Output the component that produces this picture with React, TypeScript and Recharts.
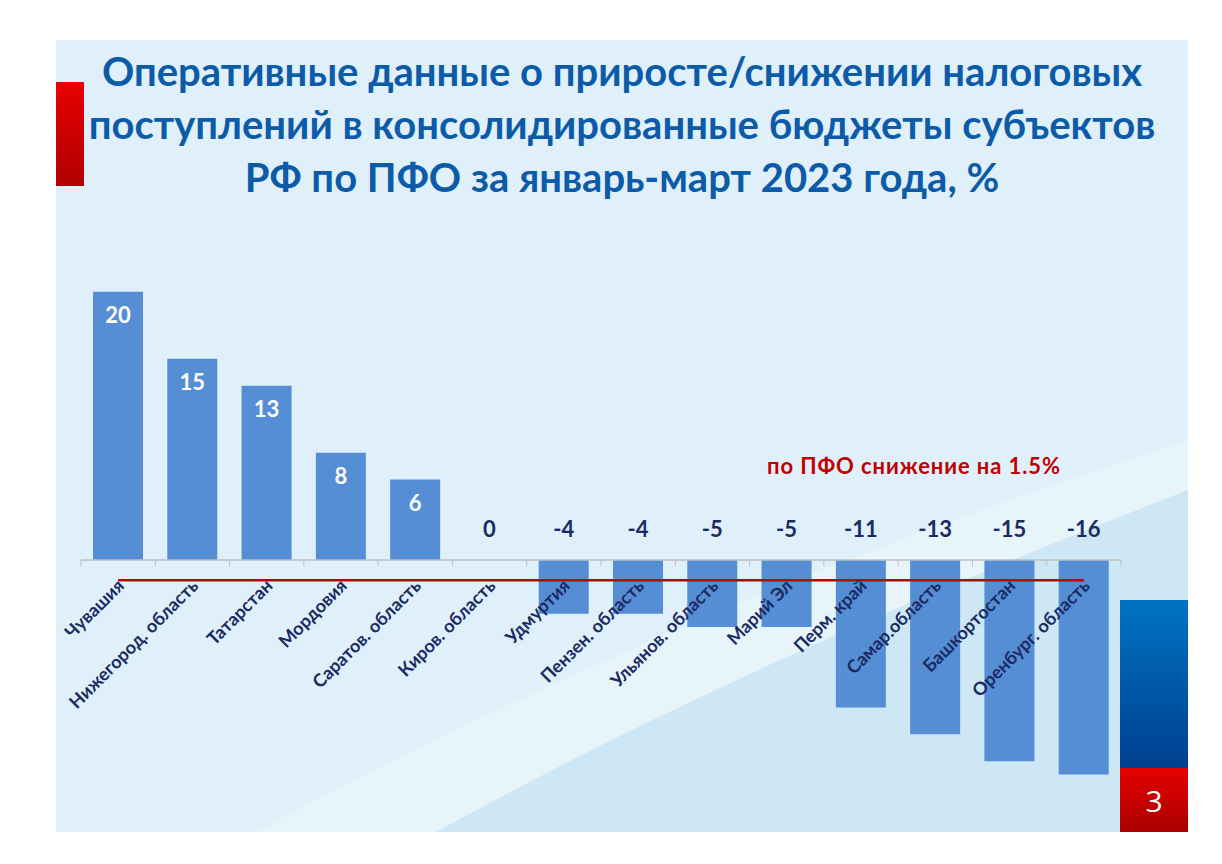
import React from 'react';
import { BarChart, Bar, XAxis, YAxis, ReferenceLine, LabelList } from 'recharts';

const regions = [
  'Чувашия',
  'Нижегород. область',
  'Татарстан',
  'Мордовия',
  'Саратов. область',
  'Киров. область',
  'Удмуртия',
  'Пензен. область',
  'Ульянов. область',
  'Марий Эл',
  'Перм. край',
  'Самар.область',
  'Башкортостан',
  'Оренбург. область',
];
const growth = [20, 15, 13, 8, 6, 0, -4, -4, -5, -5, -11, -13, -15, -16];
const pfoTotal = -1.5;
const yDomain = [-17, 22];

const data = regions.map((name, i) => ({ name, value: growth[i] }));

// layout
const W = 1222;
const H = 864;
const M = { top: 265, right: 101, bottom: 46, left: 81 };
const X_AXIS_H = 30;
const plotH = H - M.top - M.bottom - X_AXIS_H;
const ZERO_Y = M.top + (yDomain[1] / (yDomain[1] - yDomain[0])) * plotH;
const BAND = (W - M.left - M.right) / regions.length;

const NAVY = '#1b2a63';
const FONT = 'Lato, "Open Sans", sans-serif';

function RegionTick(props: any) {
  const { x, payload, index } = props;
  const tx = x + 7;
  const ty = ZERO_Y + 27;
  return (
    <g>
      <line x1={x - BAND / 2} x2={x - BAND / 2} y1={ZERO_Y} y2={ZERO_Y + 6} stroke="#bfbfbf" />
      {index === regions.length - 1 && (
        <line x1={x + BAND / 2} x2={x + BAND / 2} y1={ZERO_Y} y2={ZERO_Y + 6} stroke="#bfbfbf" />
      )}
      <text
        x={tx}
        y={ty}
        transform={`rotate(-45 ${tx} ${ty})`}
        textAnchor="end"
        fill={NAVY}
        fontFamily={FONT}
        fontWeight={700}
        fontSize={18}
      >
        {payload.value}
      </text>
    </g>
  );
}

function ValueLabel(props: any) {
  const { x, y, width, height, value } = props;
  const cx = x + width / 2;
  if (value > 0) {
    return (
      <text x={cx} y={y + 23} textAnchor="middle" dominantBaseline="central" fill="#fff" fontFamily={FONT} fontWeight={700} fontSize={22}>
        {value}
      </text>
    );
  }
  let top = Math.min(y, y + (height || 0));
  if (!isFinite(top)) top = ZERO_Y;
  return (
    <text x={cx} y={top - 32} textAnchor="middle" dominantBaseline="central" fill={NAVY} fontFamily={FONT} fontWeight={700} fontSize={22}>
      {value}
    </text>
  );
}

export default function App() {
  return (
    <div style={{ position: 'absolute', left: 0, top: 0, width: W, height: H, background: '#fff', overflow: 'hidden', fontFamily: FONT }}>
      <div style={{ position: 'absolute', left: 56, top: 40, width: 1132, height: 792, background: '#dff0fa', overflow: 'hidden' }}>
        <svg width={1132} height={792} style={{ position: 'absolute', left: 0, top: 0 }}>
          <path d="M 200 792 C 520 620, 820 500, 1132 400 L 1132 450 C 850 560, 620 660, 380 792 Z" fill="#e7f5fb" />
          <path d="M 380 792 C 620 660, 850 560, 1132 450 L 1132 792 Z" fill="#cde7f4" />
        </svg>
      </div>
      <div style={{ position: 'absolute', left: 56, top: 82, width: 28, height: 104, background: 'linear-gradient(#e80000, #b00000)' }} />
      <div style={{ position: 'absolute', left: 1120, top: 600, width: 68, height: 168, background: 'linear-gradient(#0073c2, #003f8f)' }} />
      <div
        style={{
          position: 'absolute', left: 1120, top: 768, width: 68, height: 64,
          background: 'linear-gradient(#e60000, #a80000)', color: '#fff', fontSize: 30,
          fontFamily: '"Open Sans", sans-serif', display: 'flex', alignItems: 'center', justifyContent: 'center',
        }}
      >
        3
      </div>
      <div
        style={{
          position: 'absolute', left: 56, top: 45, width: 1132, textAlign: 'center', color: '#0b5ba8',
          fontWeight: 700, fontSize: 40, lineHeight: '53px',
        }}
      >
        Оперативные данные о приросте/снижении налоговых
        <br />
        поступлений в консолидированные бюджеты субъектов
        <br />
        РФ по ПФО за январь-март 2023 года, %
      </div>
      <div style={{ position: 'absolute', left: 767, top: 452, color: '#c00000', fontWeight: 700, fontSize: 22, letterSpacing: 0.9, whiteSpace: 'nowrap' }}>
        по ПФО снижение на 1.5%
      </div>
      <div style={{ position: 'absolute', left: 0, top: 0 }}>
        <BarChart width={W} height={H} data={data} margin={M} barSize={50}>
          <YAxis hide domain={yDomain} />
          <ReferenceLine y={0} stroke="#bfbfbf" strokeWidth={1.5} />
          <Bar
            dataKey="value"
            fill="#558ed5"
            isAnimationActive={false}
            minPointSize={(v: number) => (v === 0 ? 0.01 : 0)}
          >
            <LabelList dataKey="value" content={<ValueLabel />} />
          </Bar>
          <ReferenceLine
            segment={[
              { x: regions[0], y: pfoTotal },
              { x: regions[regions.length - 1], y: pfoTotal },
            ]}
            stroke="#c00000"
            strokeWidth={2.5}
          />
          <XAxis dataKey="name" interval={0} axisLine={false} tickLine={false} height={X_AXIS_H} tick={<RegionTick />} />
        </BarChart>
      </div>
    </div>
  );
}
